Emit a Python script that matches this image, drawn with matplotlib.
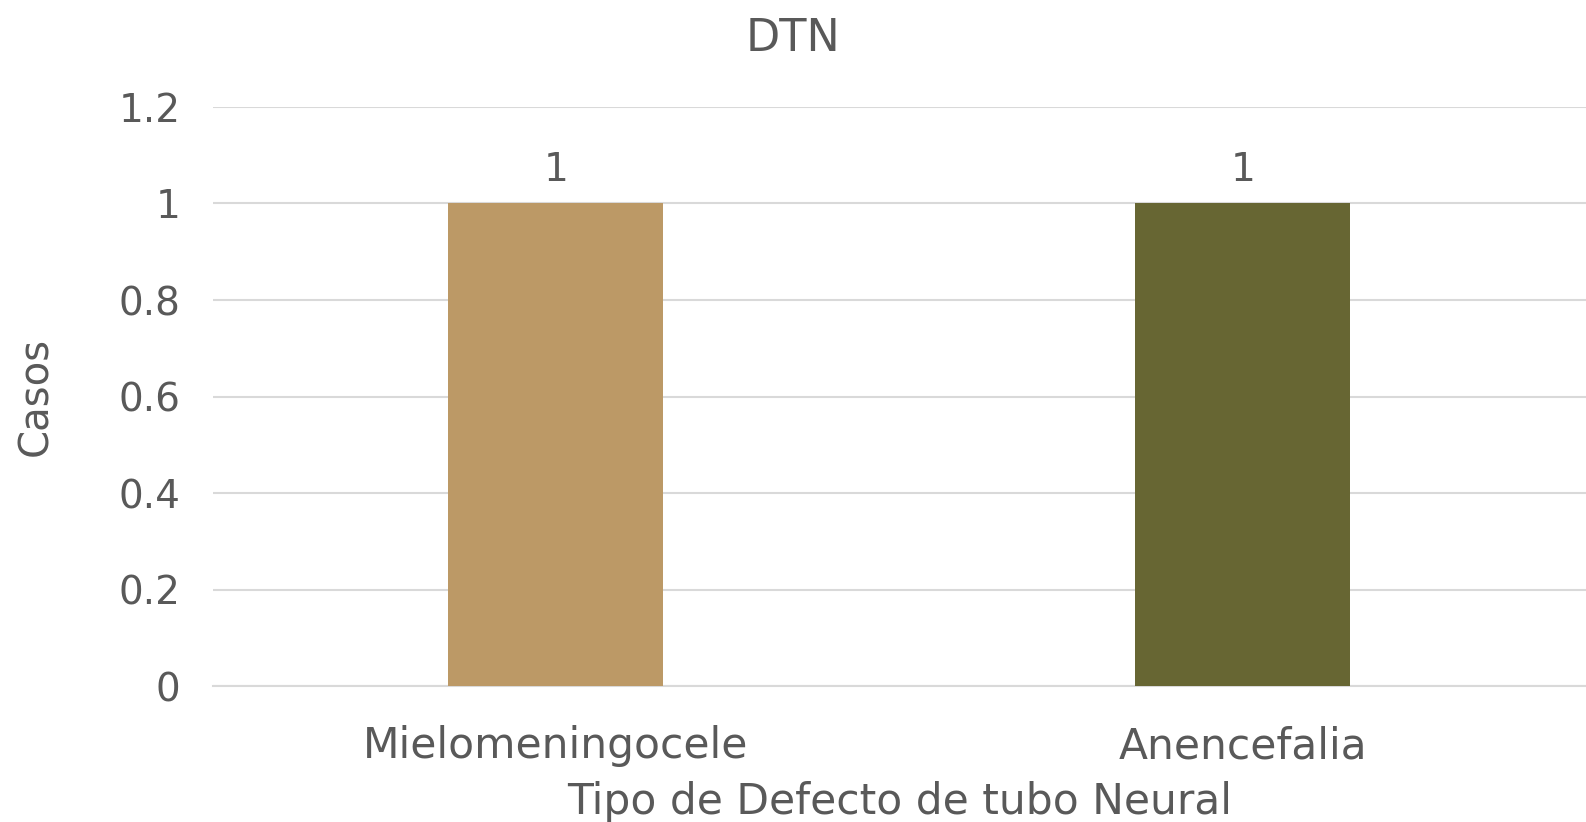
import matplotlib
matplotlib.use('Agg')
import matplotlib.pyplot as plt

# data
categories = ['Mielomeningocele', 'Anencefalia']
casos = [1, 1]
bar_colors = ['#BC9966', '#676633']
y_ticks = [0, 0.2, 0.4, 0.6, 0.8, 1, 1.2]
y_tick_labels = ['0', '0.2', '0.4', '0.6', '0.8', '1', '1.2']

text_color = '#595959'
plt.rcParams['font.family'] = ['DejaVu Sans']

fig = plt.figure(figsize=(15.86, 8.22), dpi=100)
ax = fig.add_axes([0.134, 0.165, 0.866, 0.705])

x = range(len(categories))
bars = ax.bar(x, casos, width=0.313, color=bar_colors, zorder=3)

for b, v in zip(bars, casos):
    ax.text(b.get_x() + b.get_width() / 2, v + 0.03, str(v),
            ha='center', va='bottom', fontsize=28, color=text_color)

ax.set_xlim(-0.5, len(categories) - 0.5)
ax.set_ylim(0, 1.2)
ax.set_yticks(y_ticks)
ax.set_yticklabels(y_tick_labels)
ax.set_xticks(list(x))
ax.set_xticklabels(categories)
ax.tick_params(axis='y', length=0, labelsize=28, colors=text_color, pad=23)
ax.tick_params(axis='x', length=0, labelsize=30.5, colors=text_color, pad=28)

ax.grid(axis='y', color='#D9D9D9', linewidth=1.5, zorder=0)
for s in ['top', 'right', 'left']:
    ax.spines[s].set_visible(False)
ax.spines['bottom'].set_color('#D9D9D9')
ax.spines['bottom'].set_linewidth(1.5)

fig.text(0.5, 0.953, 'DTN', fontsize=32, color=text_color, ha='center', va='center')
ax.set_xlabel('Tipo de Defecto de tubo Neural', fontsize=30.5, color=text_color, labelpad=10)
ax.set_ylabel('Casos', fontsize=29, color=text_color, labelpad=45)

fig.savefig('out.png', dpi=100)
